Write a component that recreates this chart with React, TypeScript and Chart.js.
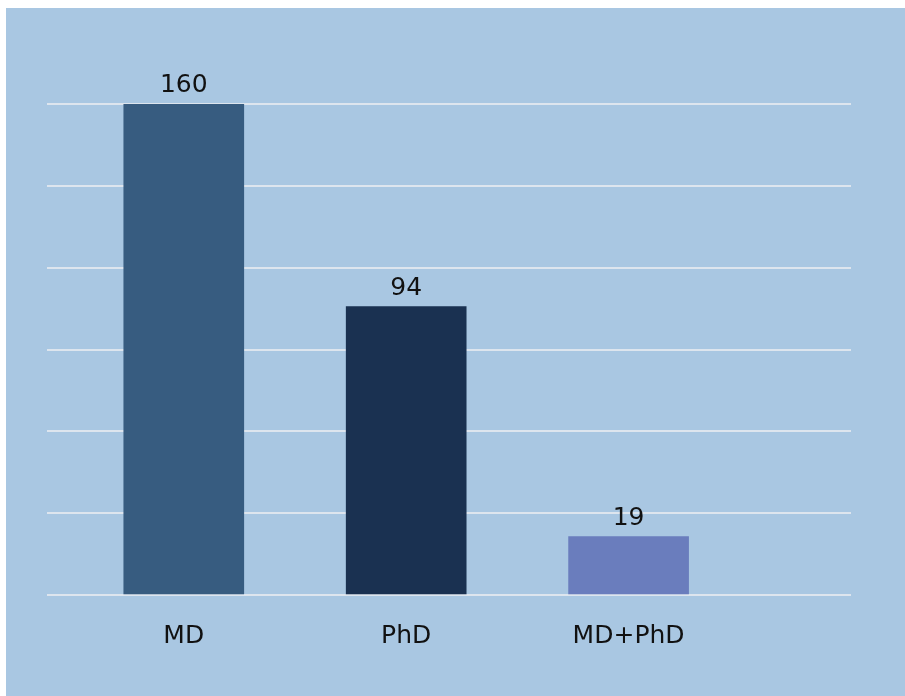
import React, { useEffect, useRef } from "react";
import { Chart, registerables } from "chart.js";

Chart.register(...registerables);

const categories = ["MD", "PhD", "MD+PhD"];
const positions = [0, 1, 2];
const values = [160, 94, 19];
const barColors = ["#375c80", "#1a3151", "#6a7dbd"];
const yMax = 160;
const gridCount = 6;

const FONT = "'DejaVu Sans', sans-serif";

const valueLabels = {
  id: "valueLabels",
  afterDatasetsDraw(chart: any) {
    const ctx = chart.ctx;
    const meta = chart.getDatasetMeta(0);
    ctx.save();
    ctx.font = `25px ${FONT}`;
    ctx.fillStyle = "#111111";
    ctx.textAlign = "center";
    ctx.textBaseline = "alphabetic";
    meta.data.forEach((el: any, i: number) => {
      ctx.fillText(String(values[i]), el.x, el.y - 12);
    });
    ctx.restore();
  },
};

export default function App() {
  const ref = useRef<HTMLCanvasElement | null>(null);

  useEffect(() => {
    if (!ref.current) return;
    const chart = new Chart(ref.current, {
      type: "bar",
      data: {
        datasets: [
          {
            data: positions.map((p, i) => ({ x: p, y: values[i] })),
            backgroundColor: barColors,
            borderWidth: 0,
            barThickness: 120,
          },
        ],
      },
      options: {
        animation: false,
        responsive: true,
        maintainAspectRatio: false,
        layout: { padding: { top: 96, left: 41, right: 54, bottom: 27 } },
        plugins: { legend: { display: false }, tooltip: { enabled: false } },
        scales: {
          x: {
            type: "linear",
            min: -0.615,
            max: 3,
            offset: false,
            grid: { display: false },
            border: { display: false },
            afterBuildTicks: (axis: any) => {
              axis.ticks = positions.map((v) => ({ value: v }));
            },
            ticks: {
              padding: 18,
              color: "#111111",
              font: { family: FONT, size: 25 },
              maxRotation: 0,
              autoSkip: false,
              callback: (v: any) => categories[Number(v)] ?? "",
            },
          },
          y: {
            min: 0,
            max: yMax,
            border: { display: false },
            grid: { color: "#dde5ee", lineWidth: 2, drawTicks: false },
            afterBuildTicks: (axis: any) => {
              const t = [];
              for (let i = 0; i <= gridCount; i++) t.push({ value: (yMax * i) / gridCount });
              axis.ticks = t;
            },
            ticks: { display: false },
          },
        },
      },
      plugins: [valueLabels],
    });
    return () => chart.destroy();
  }, []);

  return (
    <div
      style={{
        position: "fixed",
        left: 6,
        top: 8,
        width: 899,
        height: 688,
        background: "#a9c7e2",
      }}
    >
      <canvas ref={ref} />
    </div>
  );
}
